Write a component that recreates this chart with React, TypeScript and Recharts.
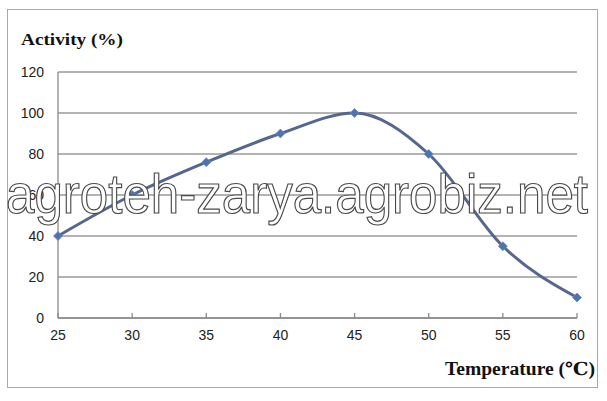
import React from 'react';
import { LineChart, Line, XAxis, YAxis, CartesianGrid } from 'recharts';

const temperatures = [25, 30, 35, 40, 45, 50, 55, 60];
const activity = [40, 60, 76, 90, 100, 80, 35, 10];
const yTicks = [0, 20, 40, 60, 80, 100, 120];

const chartData = temperatures.map((t, i) => ({ temp: t, activity: activity[i] }));

const Diamond = (props: any) => {
  const { cx, cy } = props;
  if (cx == null || cy == null) return null;
  const r = 4.5;
  return (
    <path
      d={`M${cx},${cy - r} L${cx + r},${cy} L${cx},${cy + r} L${cx - r},${cy} Z`}
      fill="#4d74ae"
      stroke="#6d8cc0"
      strokeWidth={0.8}
    />
  );
};

const tickFont = '"Liberation Sans Narrow", "Liberation Sans", Arial, sans-serif';
const titleFont = '"Liberation Serif", "DejaVu Serif", serif';

export default function App() {
  return (
    <div style={{ position: 'absolute', left: 0, top: 0, width: 607, height: 401, background: '#fff' }}>
      <div
        style={{
          position: 'absolute', left: 7, top: 9, width: 591, height: 379,
          border: '1px solid #a8a8a8', boxSizing: 'border-box',
        }}
      />
      <div style={{ position: 'absolute', left: 0, top: 0 }}>
        <LineChart width={607} height={401} data={chartData} margin={{ top: 72, right: 30, left: 8, bottom: 53 }}>
          <CartesianGrid vertical={false} stroke="#9a9a9a" strokeWidth={1.3} />
          <XAxis
            dataKey="temp"
            type="number"
            domain={[25, 60]}
            ticks={temperatures}
            height={30}
            tickSize={-5}
            tickMargin={17}
            stroke="#8a8a8a"
            strokeWidth={1.3}
            tick={{ fill: '#222', fontSize: 14, fontFamily: tickFont }}
          />
          <YAxis
            domain={[0, 120]}
            ticks={yTicks}
            width={50}
            tickSize={0}
            tickMargin={14}
            stroke="#8a8a8a"
            strokeWidth={1.3}
            tick={{ fill: '#222', fontSize: 14, fontFamily: tickFont }}
          />
          <Line
            type="monotone"
            dataKey="activity"
            stroke="#56678f"
            strokeWidth={3}
            dot={<Diamond />}
            activeDot={false}
            isAnimationActive={false}
          />
        </LineChart>
      </div>
      <svg width={607} height={401} style={{ position: 'absolute', left: 0, top: 0, pointerEvents: 'none' }}>
        <text x={21} y={45} fontSize={17} fontWeight="bold" fill="#111" fontFamily={titleFont}
          textLength={102} lengthAdjust="spacingAndGlyphs">
          Activity (%)
        </text>
        <text x={445} y={375} fontSize={18} fontWeight="bold" fill="#111" fontFamily={titleFont}
          textLength={150} lengthAdjust="spacingAndGlyphs">
          Temperature (℃)
        </text>
        <text
          x={6}
          y={213}
          fontSize={55}
          textLength={582}
          lengthAdjust="spacingAndGlyphs"
          fill="#fff"
          stroke="#4a4a4a"
          strokeWidth={1.2}
          fontFamily='"Liberation Sans", Arial, sans-serif'
        >
          agroteh-zarya.agrobiz.net
        </text>
      </svg>
    </div>
  );
}
